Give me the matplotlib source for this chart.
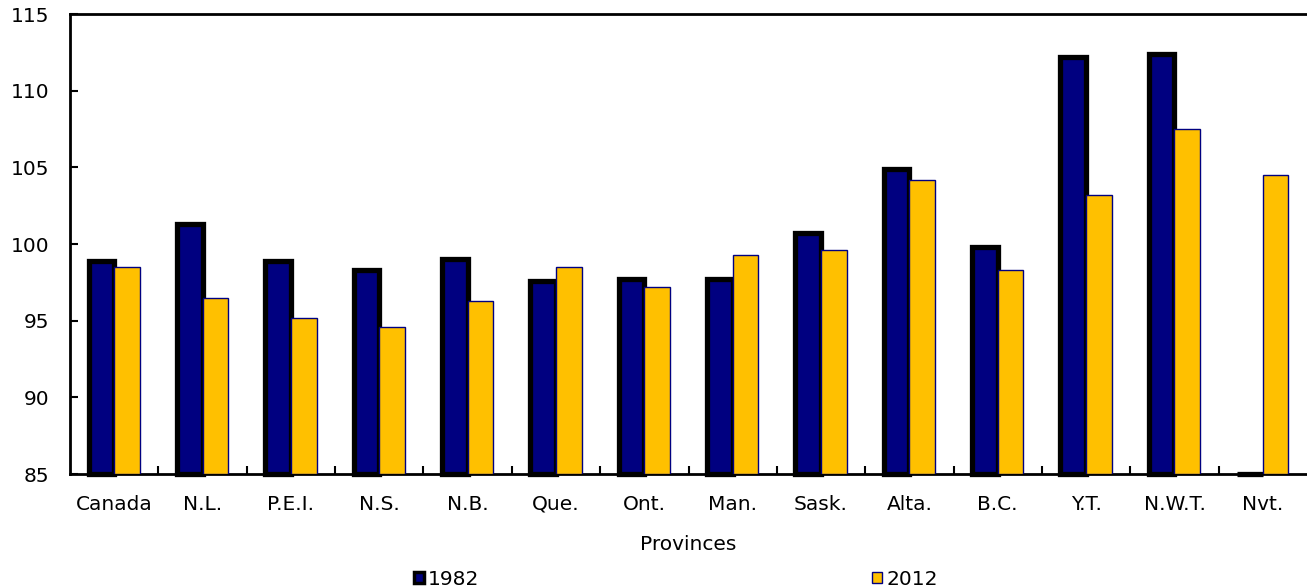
import matplotlib.pyplot as plt
from matplotlib.patches import Patch
import numpy as np

# --- DATA ---
provinces = ["Canada", "N.L.", "P.E.I.", "N.S.", "N.B.", "Que.", "Ont.",
             "Man.", "Sask.", "Alta.", "B.C.", "Y.T.", "N.W.T.", "Nvt."]
values_1982 = [98.9, 101.3, 98.9, 98.3, 99.0, 97.6, 97.7,
               97.7, 100.7, 104.9, 99.8, 112.2, 112.4, 85.0]
values_2012 = [98.5, 96.5, 95.2, 94.6, 96.3, 98.5, 97.2,
               99.3, 99.6, 104.2, 98.3, 103.2, 107.5, 104.5]
series_labels = ["1982", "2012"]

navy = "#000080"
gold = "#FFC000"
base = 85

plt.rcParams['font.family'] = ['DejaVu Sans']
plt.rcParams['font.size'] = 14.5

fig = plt.figure(figsize=(13.07, 5.88), dpi=100)
ax = fig.add_axes([70 / 1307, 1 - 474 / 588, 1 - 70 / 1307, 460 / 588])

x = np.arange(len(provinces))
w = 0.29

ax.bar(x - w / 2, np.array(values_1982) - base, width=w, bottom=base,
       color=navy, edgecolor="black", linewidth=3.8, zorder=2, clip_on=False)
ax.bar(x + w / 2, np.array(values_2012) - base, width=w, bottom=base,
       color=gold, edgecolor=navy, linewidth=1.0, zorder=3)

ax.set_xlim(-0.5, len(provinces) - 0.5)
ax.set_ylim(85, 115)
ax.set_yticks(range(85, 116, 5))

ax.set_xticks(x)
ax.set_xticklabels(provinces)
ax.set_xticks(np.arange(0.5, len(provinces) - 0.5, 1), minor=True)
ax.tick_params(axis='x', which='major', length=0, pad=15)
ax.tick_params(axis='x', which='minor', direction='in', length=6, width=1.5)
ax.tick_params(axis='y', direction='in', length=6, width=1.5, pad=15)

for s in ["left", "bottom", "top"]:
    ax.spines[s].set_linewidth(2)
ax.spines["right"].set_visible(False)

ax.set_xlabel("Provinces", fontsize=14.5, labelpad=15)

handles = [Patch(facecolor=navy, edgecolor="black", linewidth=2.5),
           Patch(facecolor=gold, edgecolor=navy, linewidth=1.0)]
fig.legend(handles, series_labels, loc="lower center", bbox_to_anchor=(0.517, -0.032),
           ncol=2, frameon=False, handlelength=0.5, handleheight=0.5,
           handletextpad=0.2, columnspacing=19.5, fontsize=14.5)

fig.savefig("out.png", dpi=100)
